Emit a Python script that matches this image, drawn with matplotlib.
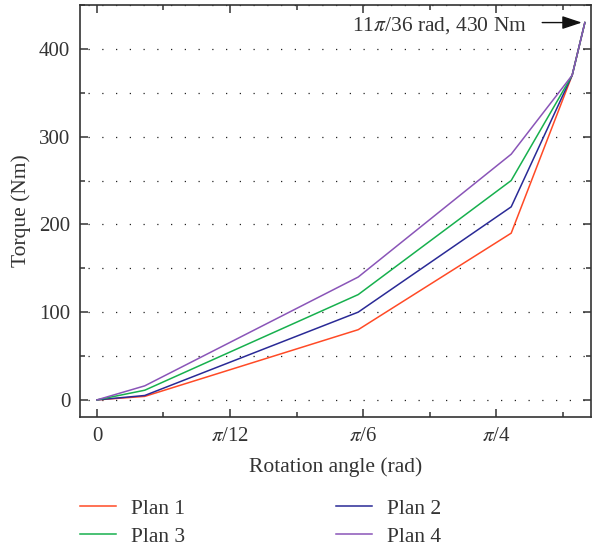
import numpy as np
import matplotlib
matplotlib.use("Agg")
import matplotlib.pyplot as plt
from matplotlib.ticker import FixedLocator, MultipleLocator

plt.rcParams["font.family"] = ["Liberation Serif", "DejaVu Serif"]
plt.rcParams["mathtext.fontset"] = "stix"

# data (rad, Nm)
angle = [0.0, 0.094, 0.514, 0.815, 0.935, 11 * np.pi / 36]
plan1 = [0, 4, 80, 190, 370, 430]
plan2 = [0, 5, 100, 220, 370, 430]
plan3 = [0, 11, 120, 250, 370, 430]
plan4 = [0, 16, 140, 280, 370, 430]
labels = ["Plan 1", "Plan 2", "Plan 3", "Plan 4"]
colors = ["#ff4a26", "#2a2a96", "#17b04e", "#8a55b8"]

xtick_pos = [0, np.pi / 12, np.pi / 6, np.pi / 4]
xtick_lab = ["0", r"$\pi$/12", r"$\pi$/6", r"$\pi$/4"]

dark = "#333333"

fig = plt.figure(figsize=(5.92, 5.51), dpi=100)
ax = fig.add_axes([0.1351, 0.2432, 0.8632, 0.7477])

lines = []
for ys, lab, c in zip([plan1, plan2, plan3, plan4], labels, colors):
    (ln,) = ax.plot(angle, ys, color=c, lw=1.1, label=lab, zorder=3)
    lines.append(ln)

ax.set_xlim(-0.0334, 0.972)
ax.set_ylim(-19.5, 450)

ax.xaxis.set_major_locator(FixedLocator(xtick_pos))
ax.set_xticklabels(xtick_lab)
ax.xaxis.set_minor_locator(FixedLocator([np.pi / 24, np.pi / 8, 5 * np.pi / 24, 7 * np.pi / 24]))
ax.yaxis.set_major_locator(MultipleLocator(100))
ax.yaxis.set_minor_locator(MultipleLocator(50))

# dotted horizontal grid every 50
for yv in np.arange(0, 451, 50):
    ax.axhline(yv, xmin=0.015, xmax=0.99, color="#222222", lw=0.9,
               ls=(0, (1, 10)), zorder=1)

ax.tick_params(which="both", direction="in", top=True, right=True,
               colors=dark, labelsize=15, width=1.1)
ax.tick_params(which="major", length=6, pad=7)
ax.tick_params(which="minor", length=3.5)
for s in ax.spines.values():
    s.set_color(dark)
    s.set_linewidth(1.2)

ax.set_xlabel("Rotation angle (rad)", fontsize=15.5, color=dark, labelpad=8)
ax.set_ylabel("Torque (Nm)", fontsize=15.5, color=dark, labelpad=6)

# annotation of the end point
ax.text(0.846, 427, r"11$\pi$/36 rad, 430 Nm", ha="right", va="center",
        fontsize=15.5, color=dark)
ax.annotate("", xy=(11 * np.pi / 36 - 0.006, 430), xytext=(0.876, 430),
            arrowprops=dict(arrowstyle="-|>,head_length=0.6,head_width=0.2",
                            color="#111111", lw=1.0,
                            mutation_scale=20, shrinkA=0, shrinkB=0))

order = [0, 2, 1, 3]
fig.legend([lines[i] for i in order], [labels[i] for i in order],
           ncol=2, loc="upper left", bbox_to_anchor=(0.121, 0.111),
           borderaxespad=0, frameon=False, fontsize=15.5, handlelength=1.65,
           handletextpad=0.72, columnspacing=7.0, labelspacing=0.38,
           labelcolor=dark)

fig.savefig("out.png", dpi=100)
